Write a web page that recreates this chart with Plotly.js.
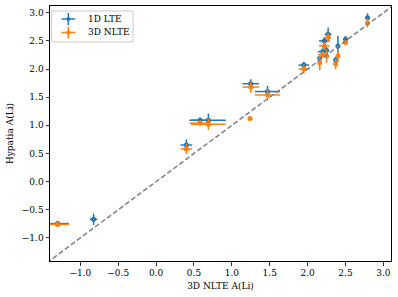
<!DOCTYPE html>
<html>
<head>
<meta charset="utf-8">
<script src="https://cdn.plot.ly/plotly-3.0.1.min.js"></script>
<style>html,body{margin:0;padding:0;background:#fff;}#chart{width:398px;height:297px;}</style>
</head>
<body>
<div id="chart"></div>
<script>
// shared x: 3D NLTE A(Li) reference and its error
const xRef    = [-1.30, -0.825, 0.40, 0.58, 0.69, 1.24, 1.25, 1.47, 1.95, 2.16, 2.20, 2.22, 2.25, 2.27, 2.37, 2.40, 2.50, 2.79];
const xRefErr = [0.15, 0.05, 0.077, 0.14, 0.23, 0.03, 0.11, 0.165, 0.07, 0.02, 0.066, 0.07, 0.03, 0.045, 0.02, 0.02, 0.03, 0.03];
// Hypatia 1D LTE
const yLTE    = [-0.745, -0.67, 0.65, 1.09, 1.09, null, 1.74, 1.60, 2.07, 2.19, 2.31, 2.50, 2.33, 2.62, 2.16, 2.41, 2.53, 2.91];
const yLTEErr = [0.02, 0.10, 0.10, 0.05, 0.12, 0, 0.08, 0.10, 0.06, 0.05, 0.06, 0.07, 0.06, 0.12, 0.06, 0.18, 0.06, 0.08];
// Hypatia 3D NLTE
const yNLTE    = [-0.76, null, 0.58, 1.04, 1.02, 1.12, 1.68, 1.54, 2.00, 2.11, 2.26, 2.41, 2.23, 2.56, 2.09, 2.23, 2.47, 2.82];
const yNLTEErr = [0.02, 0, 0.09, 0.05, 0.10, 0.03, 0.10, 0.10, 0.08, 0.13, 0.06, 0.07, 0.12, 0.08, 0.09, 0.11, 0.05, 0.08];
const identity = [-1.6, 3.3];
const seriesNames = ['1D LTE', '3D NLTE'];

const blue = '#1f77b4', orange = '#ff7f0e';
const font = {family: 'DejaVu Serif', size: 9, color: '#000'};

function series(y, yerr, color) {
  return {
    type: 'scatter', mode: 'markers', x: xRef, y: y, showlegend: false,
    marker: {color: color, size: 5},
    error_x: {type: 'data', array: xRefErr, color: color, thickness: 1.5, width: 0},
    error_y: {type: 'data', array: yerr, color: color, thickness: 1.5, width: 0},
    hoverinfo: 'skip'
  };
}

const data = [
  series(yLTE, yLTEErr, blue),
  series(yNLTE, yNLTEErr, orange),
  {type: 'scatter', mode: 'lines', x: identity, y: identity, showlegend: false,
   line: {color: 'gray', width: 1.5, dash: '5px,2.5px'}, hoverinfo: 'skip'}
];

// manual matplotlib-style legend (paper coords of the plot area 341x255 px)
const W = 341, H = 255;
const px = p => (p - 50) / W;          // pixel x -> paper
const py = p => (261 - p) / H;         // pixel y -> paper
const shapes = [
  {type: 'rect', xref: 'paper', yref: 'paper', x0: px(51.5), x1: px(133), y0: py(42), y1: py(11),
   line: {color: '#cccccc', width: 1}, fillcolor: 'rgba(255,255,255,0.8)'}
];
const annotations = [];
[[seriesNames[0], blue, 19], [seriesNames[1], orange, 32.5]].forEach(([name, color, yc]) => {
  shapes.push({type: 'line', xref: 'paper', yref: 'paper', x0: px(61.5), x1: px(75), y0: py(yc), y1: py(yc),
    line: {color: color, width: 1.5}});
  shapes.push({type: 'line', xref: 'paper', yref: 'paper', x0: px(68.3), x1: px(68.3), y0: py(yc - 6), y1: py(yc + 6),
    line: {color: color, width: 1.5}});
  shapes.push({type: 'circle', xref: 'paper', yref: 'paper', x0: px(66.3), x1: px(70.3), y0: py(yc + 2), y1: py(yc - 2),
    line: {color: color, width: 0}, fillcolor: color});
  annotations.push({xref: 'paper', yref: 'paper', x: px(85.5), y: py(yc), xanchor: 'left', yanchor: 'middle',
    text: name, showarrow: false, font: font});
});

const axisCommon = {
  showgrid: false, zeroline: false, showline: true, mirror: true,
  linecolor: '#000', linewidth: 1,
  ticks: 'outside', ticklen: 3.5, tickwidth: 0.8, tickcolor: '#000',
  tickfont: font, dtick: 0.5, tick0: 0, tickformat: '.1f'
};

const layout = {
  width: 398, height: 297,
  margin: {l: 50, r: 7, t: 6, b: 36},
  paper_bgcolor: '#fff', plot_bgcolor: '#fff',
  font: font,
  xaxis: Object.assign({}, axisCommon, {range: [-1.40, 3.10],
    title: {text: '3D NLTE A(Li)', font: font, standoff: 5}}),
  yaxis: Object.assign({}, axisCommon, {range: [-1.41, 3.12],
    title: {text: 'Hypatia A(Li)', font: font, standoff: 6}}),
  showlegend: false,
  shapes: shapes,
  annotations: annotations
};

Plotly.newPlot('chart', data, layout, {displayModeBar: false, staticPlot: true});
</script>
</body>
</html>
